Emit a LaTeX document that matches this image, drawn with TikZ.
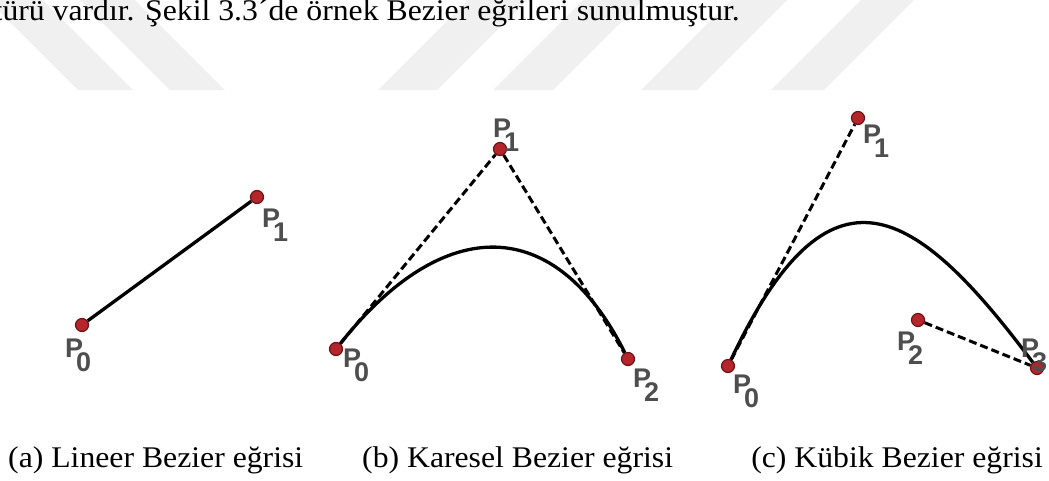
\documentclass[tikz,border=0pt]{standalone}
\usepackage{fontspec}
\setmainfont{Liberation Serif}
\newfontfamily\labfont{Liberation Sans}
\usepackage{graphicx}
\definecolor{dotfill}{RGB}{180,38,44}
\definecolor{dotrim}{RGB}{110,18,22}
\definecolor{labgray}{RGB}{78,78,78}
\definecolor{wm}{RGB}{240,240,240}
\newcommand{\plab}[1]{{\labfont\bfseries\fontsize{27}{27}\selectfont P\kern-7pt\raisebox{-14pt}{#1}}}
\newcommand{\capfont}{\fontsize{30}{30}\selectfont}
\newlength\capw
\newcommand{\measurecap}[1]{\settowidth\capw{\capfont #1}\pgfmathsetmacro\tmpsx{295pt/\capw}\global\let\gsx\tmpsx}
\tikzset{
  ctrl/.style={circle, fill=dotfill, draw=dotrim, line width=1.2pt, minimum size=13pt, inner sep=0pt},
  plabel/.style={anchor=base west, inner sep=0pt, text=labgray},
  curve/.style={line width=3.3pt, black},
  hull/.style={line width=3pt, dash pattern=on 8pt off 4pt, black},
  stripe/.style={fill=wm, draw=none},
  captext/.style={inner sep=0pt}
}
\begin{document}
\begin{tikzpicture}[x=1pt,y=-1pt]
\useasboundingbox (0,0) rectangle (1049,480);
% watermark stripes
\fill[stripe] (78,90) -- (133,90) -- (43,0) -- (-12,0) -- cycle;
\fill[stripe] (170,90) -- (225,90) -- (135,0) -- (80,0) -- cycle;
\fill[stripe] (378,90) -- (437,90) -- (527,0) -- (468,0) -- cycle;
\fill[stripe] (493,90) -- (553,90) -- (643,0) -- (583,0) -- cycle;
\fill[stripe] (641,90) -- (697,90) -- (787,0) -- (731,0) -- cycle;
\fill[stripe] (771,90) -- (824,90) -- (914,0) -- (861,0) -- cycle;
% captions (first one also fixes the horizontal text scale)
\node[captext, anchor=base west] (capa) at (8,467) {\measurecap{(a) Lineer Bezier eğrisi}\scalebox{\gsx}[1]{\capfont (a) Lineer Bezier eğrisi}};
\node[captext, anchor=base west] (capb) at (362,467) {\scalebox{\gsx}[1]{\capfont (b) Karesel Bezier eğrisi}};
\node[captext, anchor=base east] (capc) at (1043,467) {\scalebox{\gsx}[1]{\capfont (c) Kübik Bezier eğrisi}};
\node[captext, anchor=base east] (top) at (740,20) {\scalebox{\gsx}[1]{\capfont türü vardır. Şekil 3.3´de örnek Bezier eğrileri sunulmuştur.}};
% (a) linear
\node[ctrl] (a0) at (82,325) {};
\node[ctrl] (a1) at (257,197) {};
\draw[curve] (a0) -- (a1);
\node[plabel] (la0) at (65,357) {\plab{0}};
\node[plabel] (la1) at (262,227) {\plab{1}};
% (b) quadratic
\node[ctrl] (b0) at (336,349) {};
\node[ctrl] (b1) at (500,149) {};
\node[ctrl] (b2) at (628,359) {};
\coordinate (bc1) at (445,212);
\coordinate (bc2) at (556,215);
\draw[hull] (b0) -- (b1) -- (b2);
\draw[curve] (b0) .. controls (bc1) and (bc2) .. (b2);
\node[plabel] (lb0) at (343,367) {\plab{0}};
\node[plabel] (lb1) at (493,137) {\plab{1}};
\node[plabel] (lb2) at (633,387) {\plab{2}};
% (c) cubic
\node[ctrl] (c0) at (728,366) {};
\node[ctrl] (c1) at (858,118) {};
\node[ctrl] (c2) at (918,320) {};
\node[ctrl] (c3) at (1037,368) {};
\coordinate (cc1) at (830,150);
\coordinate (cc2) at (915,205);
\draw[hull] (c0) -- (c1);
\draw[hull] (c2) -- (c3);
\draw[curve] (c0) .. controls (cc1) and (cc2) .. (c3);
\node[plabel] (lc0) at (733,393) {\plab{0}};
\node[plabel] (lc1) at (863,143) {\plab{1}};
\node[plabel] (lc2) at (897,350) {\plab{2}};
\node[plabel] (lc3) at (1021,357) {\plab{3}};
\end{tikzpicture}
\end{document}
